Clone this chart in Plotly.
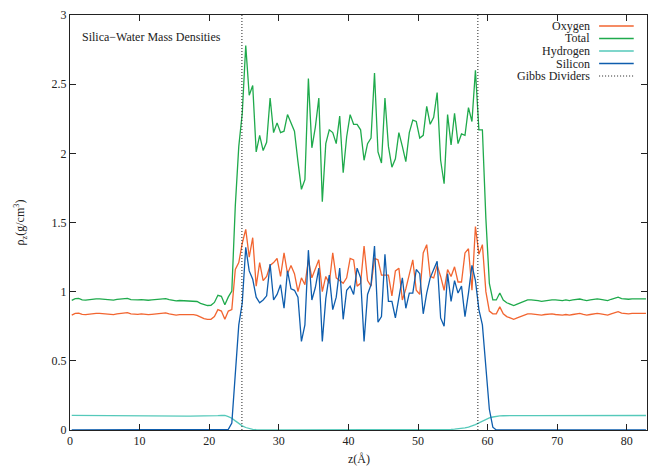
import plotly.graph_objects as go

# ---- data (bin width 0.5 Angstrom, bin centres) ----
bin_width = 0.5
oxygen = [
    0.831, 0.843, 0.845, 0.836, 0.834, 0.838, 0.841, 0.843, 0.843, 0.841,
    0.839, 0.836, 0.834, 0.839, 0.841, 0.848, 0.848, 0.839, 0.836, 0.836,
    0.839, 0.836, 0.834, 0.836, 0.839, 0.841, 0.848, 0.846, 0.839, 0.836,
    0.831, 0.834, 0.834, 0.836, 0.836, 0.834, 0.829, 0.815, 0.805, 0.800,
    0.800, 0.820, 0.870, 0.860, 0.800, 0.860, 0.870, 1.16, 1.21, 1.35,
    1.45, 1.25, 1.39, 1.04, 1.21, 1.08, 1.11, 1.19, 1.21, 1.24,
    1.11, 1.28, 1.13, 1.19, 1.13, 1.00, 1.10, 1.05, 1.23, 1.10,
    1.16, 1.23, 1.00, 1.11, 1.06, 1.28, 1.10, 1.08, 1.06, 1.10,
    1.24, 1.23, 1.04, 1.06, 1.33, 1.08, 1.04, 1.24, 1.23, 1.12,
    1.12, 1.12, 0.97, 1.15, 1.17, 0.94, 1.02, 1.13, 1.23, 1.01,
    0.98, 1.28, 1.34, 1.11, 1.10, 1.19, 1.11, 1.01, 1.16, 1.11,
    1.18, 1.07, 1.07, 1.28, 1.31, 1.01, 1.47, 1.27, 1.34, 1.00,
    0.86, 0.84, 0.84, 0.89, 0.84, 0.82, 0.81, 0.80, 0.81, 0.82,
    0.83, 0.84, 0.84, 0.835, 0.83, 0.83, 0.835, 0.84, 0.84, 0.835,
    0.83, 0.83, 0.835, 0.83, 0.835, 0.84, 0.843, 0.835, 0.83, 0.835,
    0.84, 0.843, 0.84, 0.835, 0.83, 0.84, 0.85, 0.855, 0.845, 0.84,
    0.84, 0.843, 0.843, 0.843, 0.843, 0.843,
]
total = [
    0.937, 0.949, 0.951, 0.941, 0.939, 0.943, 0.946, 0.948, 0.948, 0.946,
    0.944, 0.941, 0.939, 0.944, 0.946, 0.953, 0.952, 0.943, 0.940, 0.940,
    0.943, 0.940, 0.938, 0.940, 0.942, 0.944, 0.951, 0.949, 0.942, 0.939,
    0.933, 0.936, 0.935, 0.937, 0.936, 0.934, 0.929, 0.915, 0.905, 0.900,
    0.901, 0.922, 0.974, 0.966, 0.905, 0.962, 1.005, 1.62, 2.05, 2.29,
    2.78, 2.42, 2.49, 2.01, 2.13, 2.02, 2.08, 2.40, 2.15, 2.22,
    2.15, 2.16, 2.28, 2.22, 2.16, 1.94, 1.74, 1.81, 2.54, 2.04,
    2.19, 2.40, 1.65, 2.07, 2.17, 2.15, 2.07, 2.27, 1.86, 2.12,
    2.28, 2.21, 2.21, 2.17, 1.95, 2.07, 2.11, 2.58, 2.01, 1.93,
    2.40, 2.05, 1.90, 1.96, 2.15, 2.05, 1.94, 2.15, 2.24, 2.23,
    2.11, 2.13, 2.34, 2.21, 2.26, 2.44, 1.95, 1.78, 2.28, 2.06,
    2.29, 2.07, 2.14, 2.13, 2.33, 2.23, 2.60, 2.17, 2.17, 1.53,
    1.06, 0.94, 0.94, 0.99, 0.94, 0.92, 0.91, 0.90, 0.91, 0.92,
    0.93, 0.94, 0.94, 0.94, 0.935, 0.93, 0.935, 0.94, 0.94, 0.94,
    0.935, 0.935, 0.94, 0.935, 0.94, 0.945, 0.947, 0.94, 0.935, 0.94,
    0.945, 0.948, 0.945, 0.94, 0.935, 0.945, 0.955, 0.96, 0.95, 0.945,
    0.945, 0.948, 0.948, 0.948, 0.948, 0.948,
]
hydrogen = [
    0.106, 0.106, 0.106, 0.105, 0.105, 0.105, 0.105, 0.105, 0.105, 0.105,
    0.105, 0.105, 0.105, 0.105, 0.105, 0.105, 0.104, 0.104, 0.104, 0.104,
    0.104, 0.104, 0.104, 0.104, 0.103, 0.103, 0.103, 0.103, 0.103, 0.103,
    0.102, 0.102, 0.101, 0.101, 0.100, 0.100, 0.100, 0.100, 0.100, 0.100,
    0.101, 0.102, 0.104, 0.106, 0.105, 0.097, 0.085, 0.066, 0.046, 0.030,
    0.018, 0.010, 0.005, 0.002, 0.001, 0, 0, 0, 0, 0,
    0, 0, 0, 0, 0, 0, 0, 0, 0, 0,
    0, 0, 0, 0, 0, 0, 0, 0, 0, 0,
    0, 0, 0, 0, 0, 0, 0, 0, 0, 0,
    0, 0, 0, 0, 0, 0, 0, 0, 0, 0,
    0, 0, 0, 0, 0, 0.001, 0.001, 0.002, 0.003, 0.004,
    0.006, 0.008, 0.011, 0.015, 0.021, 0.029, 0.039, 0.052, 0.065, 0.077,
    0.087, 0.094, 0.099, 0.102, 0.103, 0.104, 0.104, 0.104, 0.104, 0.104,
    0.104, 0.104, 0.104, 0.104, 0.104, 0.104, 0.104, 0.104, 0.104, 0.104,
    0.105, 0.105, 0.105, 0.105, 0.105, 0.105, 0.105, 0.105, 0.105, 0.105,
    0.105, 0.105, 0.105, 0.105, 0.105, 0.105, 0.105, 0.105, 0.105, 0.105,
    0.105, 0.105, 0.105, 0.105, 0.105, 0.105,
]
silicon = [
    0, 0, 0, 0, 0, 0, 0, 0, 0, 0,
    0, 0, 0, 0, 0, 0, 0, 0, 0, 0,
    0, 0, 0, 0, 0, 0, 0, 0, 0, 0,
    0, 0, 0, 0, 0, 0, 0, 0, 0, 0,
    0, 0, 0, 0, 0, 0.005, 0.05, 0.40, 0.76, 0.92,
    1.32, 1.15, 1.09, 0.96, 0.92, 0.94, 0.97, 1.20, 0.94, 0.98,
    1.05, 0.88, 1.15, 1.02, 1.01, 0.96, 0.64, 0.76, 1.30, 0.94,
    1.03, 1.17, 0.64, 0.95, 1.12, 0.87, 0.96, 1.17, 0.80, 1.01,
    1.04, 0.98, 1.17, 1.10, 0.64, 0.98, 1.05, 1.33, 0.78, 0.82,
    1.27, 0.93, 0.93, 0.81, 0.97, 1.10, 0.88, 0.99, 0.99, 1.16,
    1.13, 0.84, 0.99, 1.10, 1.16, 1.22, 0.81, 0.75, 1.13, 0.93,
    1.08, 0.99, 1.04, 0.82, 0.99, 1.19, 1.08, 0.87, 0.76, 0.45,
    0.15, 0.02, 0, 0, 0, 0, 0, 0, 0, 0,
    0, 0, 0, 0, 0, 0, 0, 0, 0, 0,
    0, 0, 0, 0, 0, 0, 0, 0, 0, 0,
    0, 0, 0, 0, 0, 0, 0, 0, 0, 0,
    0, 0, 0, 0, 0, 0,
]
gibbs_dividers = [24.7, 58.6]
x_ticks = [0, 10, 20, 30, 40, 50, 60, 70, 80]
y_ticks = [0, 0.5, 1, 1.5, 2, 2.5, 3]

z = [bin_width * (k + 0.5) for k in range(len(total))]

series = [
    ("Oxygen", oxygen, "#F26530"),
    ("Total", total, "#1FAA4C"),
    ("Hydrogen", hydrogen, "#55C9BA"),
    ("Silicon", silicon, "#0E5DAD"),
]

FONT = "Liberation Serif"
TXT = "#222222"
FS = 12

fig = go.Figure()
for name, vals, col in series:
    fig.add_trace(go.Scatter(x=z, y=vals, mode="lines", name=name,
                             line=dict(color=col, width=1.3), showlegend=False))
for g in gibbs_dividers:
    fig.add_trace(go.Scatter(x=[g, g], y=[0, 3], mode="lines", name="Gibbs Dividers",
                             line=dict(color=TXT, width=1, dash="1px,2px"),
                             showlegend=False))

# gnuplot-style legend: right-aligned text, sample line to the right
legend_items = [(n, c, "solid") for n, _, c in series] + [("Gibbs Dividers", TXT, "1px,2px")]
row_y = [0.9735, 0.9434, 0.9133, 0.8831, 0.853]
for (name, col, dash), yy in zip(legend_items, row_y):
    fig.add_annotation(x=0.905, y=yy, xref="paper", yref="paper", text=name,
                       showarrow=False, xanchor="right", yanchor="middle",
                       font=dict(family=FONT, size=FS, color=TXT))
    fig.add_shape(type="line", xref="paper", yref="paper",
                  x0=0.917, x1=0.977, y0=yy, y1=yy,
                  line=dict(color=col, width=1.3 if dash == "solid" else 1, dash=dash))

fig.add_annotation(x=0.018, y=0.947, xref="paper", yref="paper",
                   text="Silica\u2212Water Mass Densities", showarrow=False,
                   xanchor="left", yanchor="middle",
                   font=dict(family=FONT, size=FS, color=TXT))

# axis titles
fig.add_annotation(x=0.5, y=-0.07, xref="paper", yref="paper", text="z(Å)",
                   showarrow=False, xanchor="center", yanchor="middle",
                   font=dict(family=FONT, size=FS, color=TXT))
fig.add_annotation(x=-0.085, y=0.5, xref="paper", yref="paper",
                   text="ρ<sub>z</sub>(g/cm<sup>3</sup>)", textangle=-90,
                   showarrow=False, xanchor="center", yanchor="middle",
                   font=dict(family=FONT, size=FS, color=TXT))

axis_common = dict(showline=True, linecolor=TXT, linewidth=1, mirror="allticks",
                   ticks="inside", ticklen=6, tickcolor=TXT, showgrid=False,
                   zeroline=False, automargin=False,
                   tickfont=dict(family=FONT, size=FS, color=TXT))

fig.update_layout(
    width=650, height=467,
    margin=dict(l=70, r=3, t=15, b=37),
    paper_bgcolor="white", plot_bgcolor="white",
    font=dict(family=FONT, size=FS, color=TXT),
    xaxis=dict(range=[0, 82.9], tickvals=x_ticks, **axis_common),
    yaxis=dict(range=[0, 3], tickvals=y_ticks, **axis_common),
)

fig.write_html("out.html", config={"displayModeBar": False},
               post_script="document.body.style.margin='0';document.body.style.overflow='hidden';")
